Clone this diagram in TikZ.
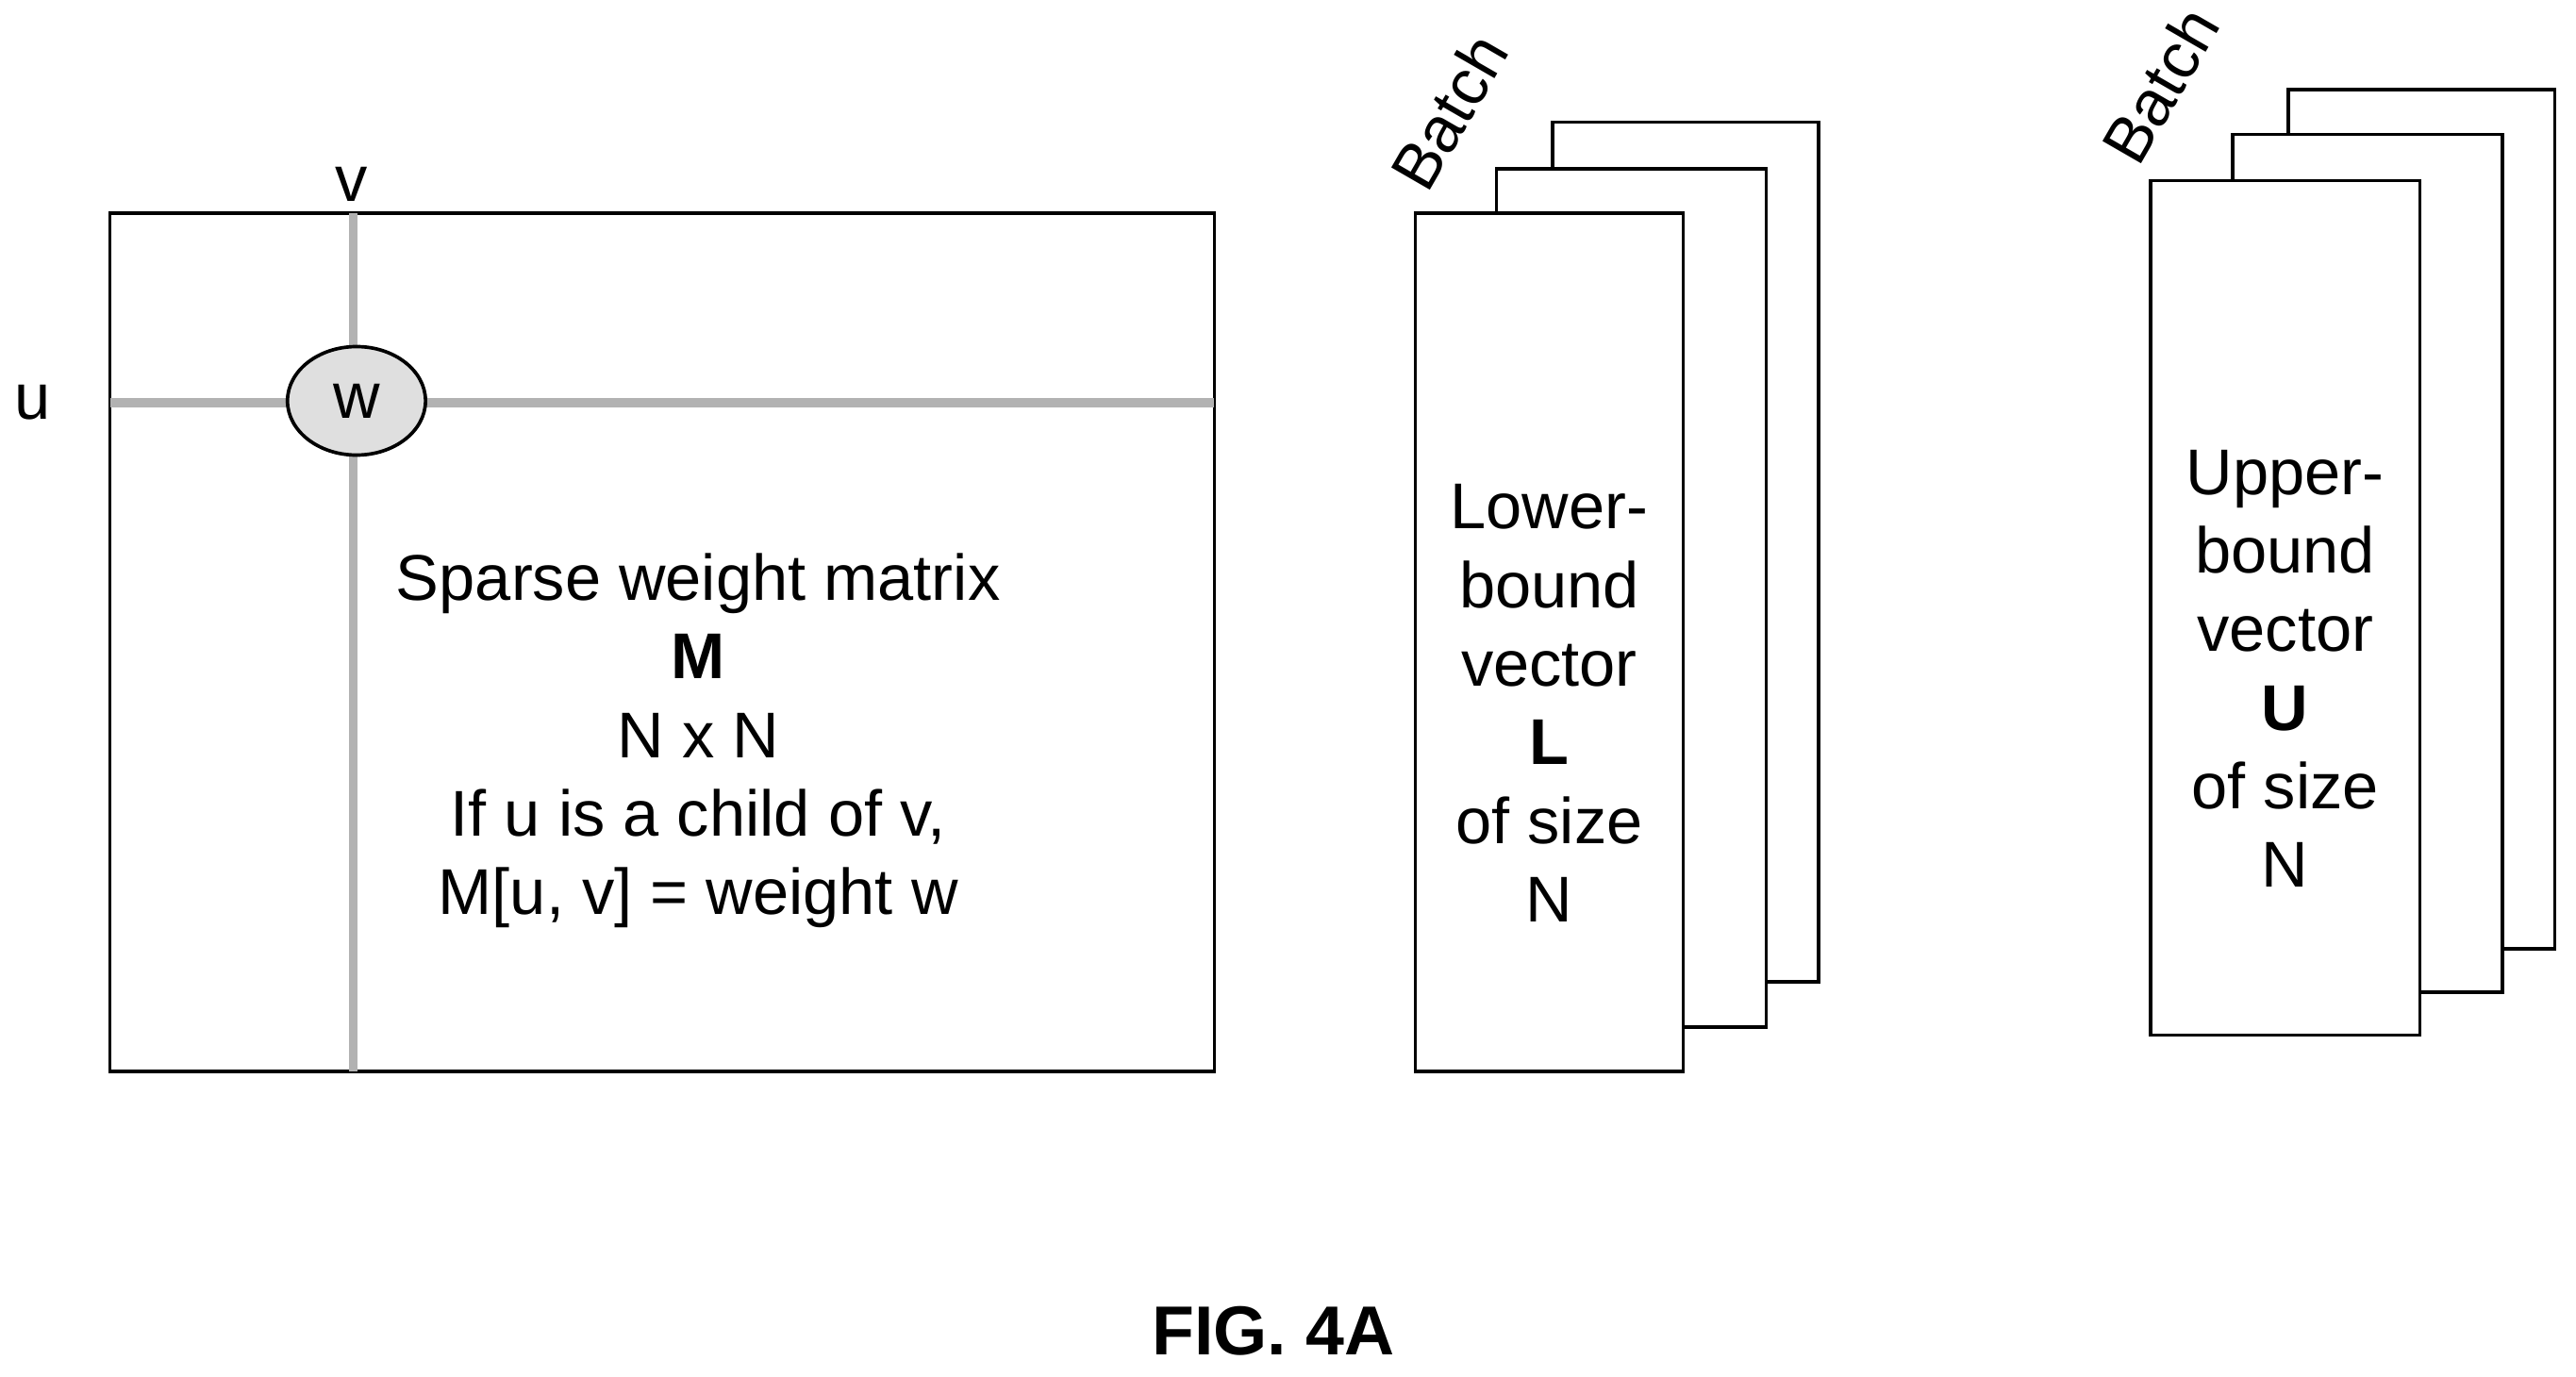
\documentclass[tikz,border=0pt]{standalone}
\usepackage{fontspec}
\setmainfont{Liberation Sans}
\usetikzlibrary{shapes,positioning}

\tikzset{
  sheet/.style={draw, fill=white, line width=0.6pt, inner sep=0pt},
  grid line/.style={draw=gray!60, line width=1.6pt},
  body/.style={font=\fontsize{11.2}{13.6}\selectfont, align=center},
}

\begin{document}
\begin{tikzpicture}[x=0.01cm, y=-0.01cm]
\useasboundingbox (0,0) rectangle (1568,838);
% weight matrix
\node[sheet, minimum width=6.72cm, minimum height=5.22cm] (matrix) at (403,391) {};
\coordinate (vtop) at (215,130);
\coordinate (vbot) at (215,652);
\coordinate (uleft) at (67,245);
\coordinate (uright) at (739,245);
\draw[grid line] (vtop) -- (vbot);
\draw[grid line] (uleft) -- (uright);
\node[ellipse, draw, fill=gray!25, line width=0.6pt, minimum width=0.84cm, minimum height=0.66cm, font=\fontsize{11.2}{12}\selectfont] (wcell) at (217,244) {w};
\node[body] (vlabel) at (214,112) {v};
\node[body] (ulabel) at (20,245) {u};
\node[body] (mtext) at (425,451) {Sparse weight matrix\\\textbf{M}\\N x N\\If u is a child of v,\\M[u, v] = weight w};
% lower-bound stack
\node[sheet, minimum width=1.62cm, minimum height=5.23cm] (lowC) at (1026,336) {};
\node[sheet, minimum width=1.64cm, minimum height=5.22cm] (lowB) at (993,364) {};
\node[sheet, minimum width=1.63cm, minimum height=5.22cm] (lowA) at (943,391) {};
\node[body] (lowtext) at (943,428) {Lower-\\bound\\vector\\\textbf{L}\\of size\\N};
\node[body, rotate=60] (lowbatch) at (882,68) {Batch};
% upper-bound stack
\node[sheet, minimum width=1.62cm, minimum height=5.23cm] (upC) at (1474,316) {};
\node[sheet, minimum width=1.64cm, minimum height=5.22cm] (upB) at (1441,343) {};
\node[sheet, minimum width=1.64cm, minimum height=5.20cm] (upA) at (1391,370) {};
\node[body] (uptext) at (1391,407) {Upper-\\bound\\vector\\\textbf{U}\\of size\\N};
\node[body, rotate=60] (upbatch) at (1315,52) {Batch};
% caption
\node[font=\fontsize{12}{14}\selectfont\bfseries] (caption) at (775,810) {FIG. 4A};
\end{tikzpicture}
\end{document}
